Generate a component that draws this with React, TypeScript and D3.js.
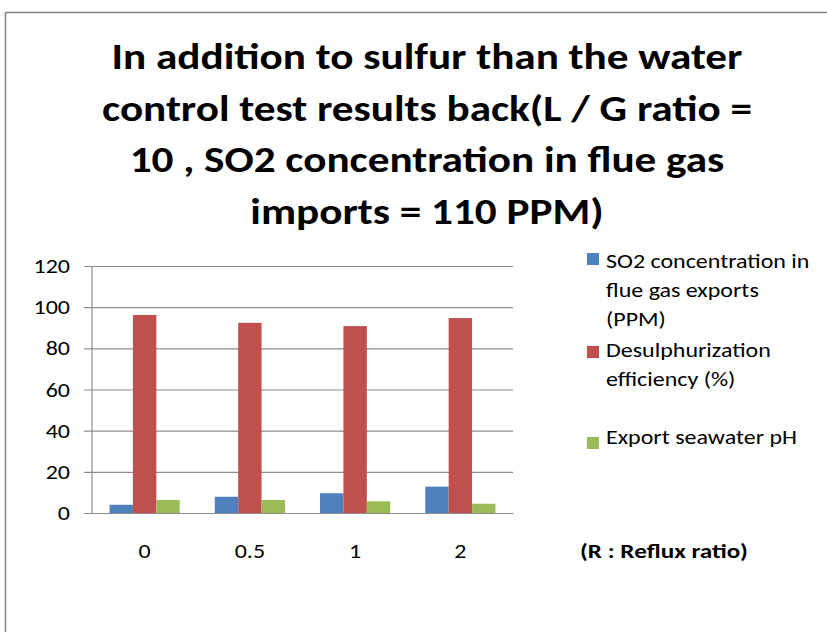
import React, { useRef, useEffect } from 'react';
import * as d3 from 'd3';

// Reflux ratio categories
const categories: string[] = ['0', '0.5', '1', '2'];

// series values
const so2Exports: number[] = [4.0, 7.9, 9.6, 12.8];
const desulEfficiency: number[] = [96.2, 92.4, 90.8, 94.7];
const seawaterPH: number[] = [6.3, 6.3, 5.7, 4.5];

const seriesNames: string[][] = [
  ['SO2 concentration in', 'flue gas exports', '(PPM)'],
  ['Desulphurization', 'efficiency (%)'],
  ['Export seawater pH'],
];
const seriesColors: string[] = ['#4F81BD', '#C0504D', '#9BBB59'];

const yTicks: number[] = [0, 20, 40, 60, 80, 100, 120];

const titleLines: string[] = [
  'In addition to sulfur than the water',
  'control test results back(L / G ratio =',
  '10 , SO2 concentration in flue gas',
  'imports = 110 PPM)',
];

const FONT = "Carlito, Calibri, 'Open Sans', 'Liberation Sans', sans-serif";
// the original picture is stretched horizontally a bit
const SX = 1.2;

const App: React.FC = () => {
  const ref = useRef<SVGSVGElement>(null);
  const width = 827;
  const height = 632;

  useEffect(() => {
    if (!ref.current) return;
    const svg = d3.select(ref.current);
    svg.selectAll('*').remove();

    // small helper for stretched text
    const label = (x: number, y: number, txt: string, size: number, anchor = 'start', bold = false) =>
      svg.append('text')
        .attr('transform', `translate(${x},${y}) scale(${SX},1)`)
        .attr('text-anchor', anchor)
        .attr('font-family', FONT)
        .attr('font-weight', bold ? 'bold' : 'normal')
        .attr('font-size', size)
        .attr('fill', '#000')
        .text(txt);

    // outer chart frame
    svg.append('rect')
      .attr('x', 5.5).attr('y', 12.5)
      .attr('width', 840).attr('height', 640)
      .attr('fill', '#fff')
      .attr('stroke', '#868686')
      .attr('stroke-width', 1.5);

    // title
    titleLines.forEach((t, i) => {
      label(427, 69 + i * 51.5, t, 36, 'middle', true);
    });

    const plot = { left: 92, right: 513, top: 266, bottom: 513 };

    const x0 = d3.scaleBand<string>()
      .domain(categories)
      .range([plot.left, plot.right])
      .paddingInner(0.333)
      .paddingOuter(0.1667);

    const x1 = d3.scaleBand<number>()
      .domain([0, 1, 2])
      .range([0, x0.bandwidth()]);

    const y = d3.scaleLinear()
      .domain([0, 120])
      .range([plot.bottom, plot.top]);

    const g = svg.append('g');

    // gridlines + outward ticks
    const yAxis = d3.axisLeft(y)
      .tickValues(yTicks)
      .tickSize(-(plot.right - plot.left))
      .tickFormat(() => '')
      .tickSizeOuter(0);
    const ya = g.append('g')
      .attr('transform', `translate(${plot.left},0)`)
      .call(yAxis);
    ya.select('.domain').remove();
    ya.selectAll('.tick line')
      .attr('x1', -8)
      .attr('stroke', '#8c8c8c')
      .attr('stroke-width', 1.2);

    yTicks.forEach(t => {
      label(70, y(t) + 7, String(t), 20, 'end');
    });

    // left axis line
    g.append('line')
      .attr('x1', plot.left).attr('x2', plot.left)
      .attr('y1', plot.top).attr('y2', plot.bottom)
      .attr('stroke', '#8c8c8c').attr('stroke-width', 1.2);

    // bars
    const allSeries = [so2Exports, desulEfficiency, seawaterPH];
    allSeries.forEach((vals, si) => {
      g.append('g')
        .selectAll('rect')
        .data(vals)
        .join('rect')
        .attr('x', (_, i) => (x0(categories[i]) as number) + (x1(si) as number))
        .attr('y', d => y(d))
        .attr('width', x1.bandwidth())
        .attr('height', d => y(0) - y(d))
        .attr('fill', seriesColors[si]);
    });

    // x axis line
    const xAxis = d3.axisBottom(x0).tickSize(0).tickFormat(() => '');
    const xa = g.append('g')
      .attr('transform', `translate(0,${plot.bottom})`)
      .call(xAxis);
    xa.select('.domain')
      .attr('stroke', '#8c8c8c')
      .attr('stroke-width', 1.2);

    categories.forEach(c => {
      label((x0(c) as number) + x0.bandwidth() / 2, 558, c, 20, 'middle');
    });

    // axis note
    label(580, 558, '(R : Reflux ratio)', 21, 'start', true);

    // legend
    const squareTops = [253, 346, 437];
    const baselines = [268, 357, 444];
    seriesNames.forEach((lines, si) => {
      svg.append('rect')
        .attr('x', 587).attr('y', squareTops[si])
        .attr('width', 12).attr('height', 12)
        .attr('fill', seriesColors[si]);
      lines.forEach((l, li) => {
        label(606, baselines[si] + li * 29, l, 20);
      });
    });
  }, []);

  return <svg ref={ref} width={width} height={height} style={{ display: 'block', position: 'absolute', left: 0, top: 0 }} />;
};

export default App;
